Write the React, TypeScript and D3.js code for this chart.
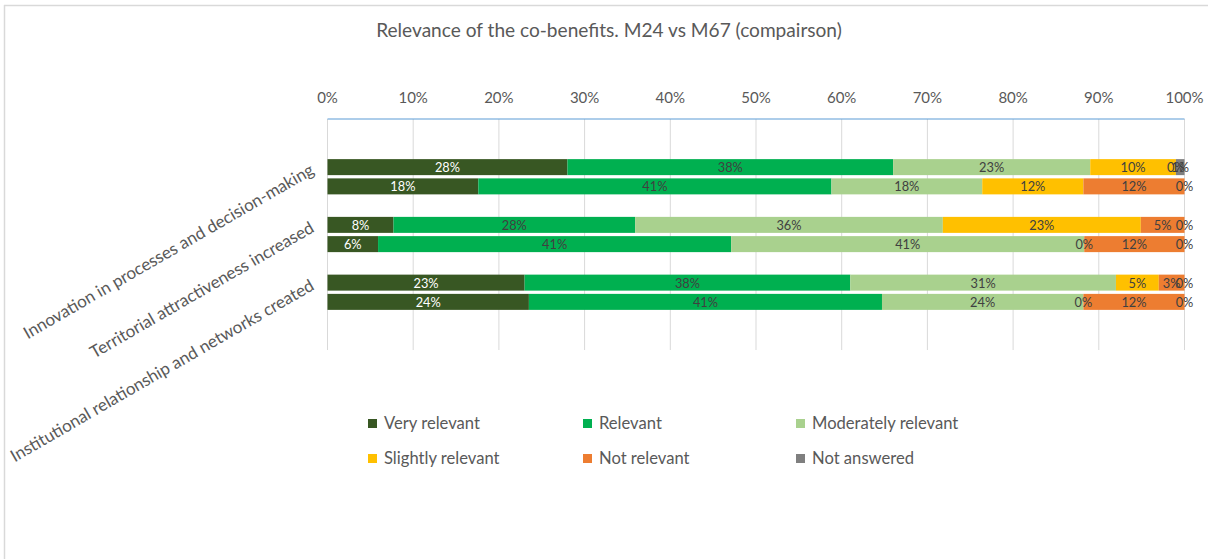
import React from "react";
import * as d3 from "d3";

const title = "Relevance of the co-benefits. M24 vs M67 (compairson)";
const categories = [
  "Innovation in processes and decision-making",
  "Territorial attractiveness increased",
  "Institutional relationship and networks created",
];
const seriesNames = [
  "Very relevant",
  "Relevant",
  "Moderately relevant",
  "Slightly relevant",
  "Not relevant",
  "Not answered",
];
const seriesColors = ["#385723", "#00b050", "#a9d18e", "#ffc000", "#ed7d31", "#7f7f7f"];

// two bars per category (M24 first, M67 second), values in %
const innovationM24 = [28, 38, 23, 10, 0, 1];
const innovationM67 = [17.6, 41.2, 17.6, 11.8, 11.8, 0];
const territorialM24 = [7.7, 28.2, 35.9, 23.1, 5.1, 0];
const territorialM67 = [5.9, 41.2, 41.2, 0, 11.7, 0];
const institutionalM24 = [23, 38, 31, 5, 3, 0];
const institutionalM67 = [23.5, 41.2, 23.5, 0, 11.8, 0];

const tickValues = [0, 10, 20, 30, 40, 50, 60, 70, 80, 90, 100];

const bars = [
  { key: "c0-M24", cat: 0, values: innovationM24 },
  { key: "c0-M67", cat: 0, values: innovationM67 },
  { key: "c1-M24", cat: 1, values: territorialM24 },
  { key: "c1-M67", cat: 1, values: territorialM67 },
  { key: "c2-M24", cat: 2, values: institutionalM24 },
  { key: "c2-M67", cat: 2, values: institutionalM67 },
];
const rowOrder = [
  "g0", "g1", "c0-M24", "c0-M67", "g2", "c1-M24", "c1-M67", "g3", "c2-M24", "c2-M67", "g4", "g5",
];

const W = 1208;
const H = 559;
const FONT = "Lato, 'Open Sans', sans-serif";
const TEXT = "#595959";

export default function App() {
  const x = d3.scaleLinear().domain([0, 100]).range([327.5, 1184.5]);
  const y = d3.scaleBand<string>().domain(rowOrder).range([119, 350]);
  const barH = 16;
  const stacked = bars.map((b) => {
    const cum = d3.cumsum(b.values);
    return {
      ...b,
      segs: b.values.map((v, i) => ({ i, v, x0: cum[i] - v, x1: cum[i] })),
    };
  });
  const catY = (c: number) => {
    const rows = bars.filter((b) => b.cat === c).map((b) => y(b.key)! + y.bandwidth() / 2);
    return d3.mean(rows)!;
  };
  const legendCols = [372, 587, 800];
  const legendRows = [423, 458];

  return (
    <div style={{ position: "absolute", left: 0, top: 0 }}>
      <svg width={W} height={H} style={{ display: "block", background: "#fff" }}>
        <line x1={4.5} x2={4.5} y1={5} y2={H} stroke="#d9d9d9" strokeWidth={1.5} />
        <line x1={4} x2={W} y1={5.5} y2={5.5} stroke="#d9d9d9" strokeWidth={1.5} />
        <text x={609} y={37} textAnchor="middle" fontFamily={FONT} fontSize={19.1} fill={TEXT}>
          {title}
        </text>
        {/* gridlines */}
        {tickValues.map((t) => (
          <line key={"g" + t} x1={x(t)} x2={x(t)} y1={119} y2={350} stroke="#d9d9d9" strokeWidth={1} />
        ))}
        <line x1={x(0)} x2={x(100)} y1={119} y2={119} stroke="#5b9bd5" strokeWidth={1} />
        {tickValues.map((t) => (
          <text key={"t" + t} x={x(t)} y={97} textAnchor="middle" dominantBaseline="central"
            fontFamily={FONT} fontSize={15} fill={TEXT}>
            {t + "%"}
          </text>
        ))}
        {/* bars */}
        {stacked.map((b) => (
          <g key={b.key}>
            {b.segs.map((s) => (
              <rect key={s.i} x={x(s.x0)} width={x(s.x1) - x(s.x0)}
                y={y(b.key)! + (y.bandwidth() - barH) / 2} height={barH} fill={seriesColors[s.i]} />
            ))}
          </g>
        ))}
        {stacked.map((b) => (
          <g key={b.key + "l"}>
            {b.segs.map((s) => (
              <text key={s.i} x={x((s.x0 + s.x1) / 2)} y={y(b.key)! + y.bandwidth() / 2}
                textAnchor="middle" dominantBaseline="central" fontFamily={FONT} fontSize={12.8}
                fill={s.i === 0 ? "#ffffff" : "#404040"}>
                {Math.round(s.v) + "%"}
              </text>
            ))}
          </g>
        ))}
        {/* category labels */}
        {categories.map((c, i) => {
          const cy = catY(i) - 9;
          return (
            <text key={c} x={312} y={cy} textAnchor="end" dominantBaseline="central"
              transform={`rotate(-30, 312, ${cy})`} fontFamily={FONT} fontSize={17} fill={TEXT}>
              {c}
            </text>
          );
        })}
        {/* legend */}
        {seriesNames.map((n, i) => {
          const lx = legendCols[i % 3];
          const ly = legendRows[Math.floor(i / 3)];
          return (
            <g key={n}>
              <rect x={lx - 4} y={ly - 4} width={9} height={9} fill={seriesColors[i]} />
              <text x={lx + 12} y={ly} dominantBaseline="central" fontFamily={FONT} fontSize={16.6} fill={TEXT}>
                {n}
              </text>
            </g>
          );
        })}
      </svg>
    </div>
  );
}
